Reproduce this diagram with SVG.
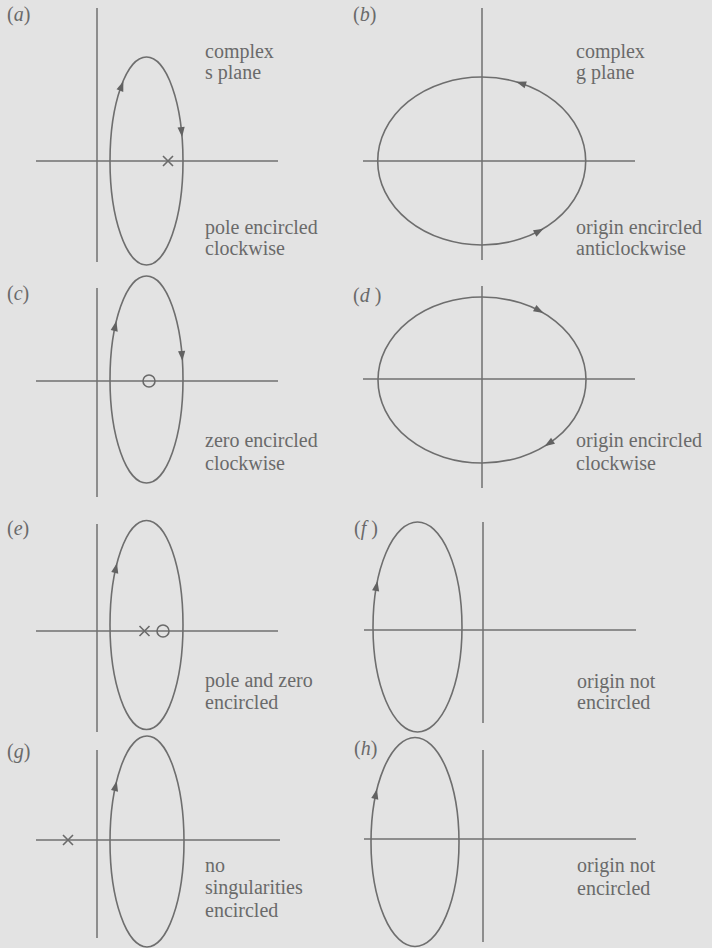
<svg xmlns="http://www.w3.org/2000/svg" xmlns:xlink="http://www.w3.org/1999/xlink" width="712" height="948" viewBox="0 0 712 948">
<style>
.ax{stroke:#707070;stroke-width:1.5;fill:none}
.ct{stroke:#6e6e6e;stroke-width:1.6;fill:none}
.ah{fill:#626262}
.mk{stroke:#6a6a6a;stroke-width:1.6;fill:none}
text{font-family:"Liberation Serif","Times New Roman",serif;font-size:20px;fill:#6a6a6a}
.it{font-style:italic}
</style>
<defs>
<path id="ah" class="ah" d="M4,0 L-6,-3.6 L-6,3.6 Z"/>
</defs>
<rect width="712" height="948" fill="#e3e3e3"/>

<g id="panel-a">
<line class="ax" x1="97" y1="8" x2="97" y2="262"/>
<line class="ax" x1="36" y1="161" x2="278" y2="161"/>
<ellipse class="ct" cx="146.5" cy="161" rx="36.5" ry="104"/>
<use xlink:href="#ah" transform="translate(122,85) rotate(-69.5)"/>
<use xlink:href="#ah" transform="translate(181.7,133) rotate(84.4)"/>
<path class="mk" d="M163,156 L173,166 M163,166 L173,156"/>
<text x="7" y="21">(<tspan class="it">a</tspan>)</text>
<text x="205" y="58">complex</text>
<text x="205" y="79">s plane</text>
<text x="205" y="234">pole encircled</text>
<text x="205" y="255">clockwise</text>
</g>

<g id="panel-b">
<line class="ax" x1="482" y1="8" x2="482" y2="260"/>
<line class="ax" x1="363" y1="161" x2="635" y2="161"/>
<ellipse class="ct" cx="481.7" cy="161" rx="104" ry="84"/>
<use xlink:href="#ah" transform="translate(520,83) rotate(-162.3)"/>
<use xlink:href="#ah" transform="translate(540,230.6) rotate(-28.6)"/>
<text x="353" y="21">(<tspan class="it">b</tspan>)</text>
<text x="576" y="58">complex</text>
<text x="576" y="79">g plane</text>
<text x="576" y="234">origin encircled</text>
<text x="576" y="255">anticlockwise</text>
</g>

<g id="panel-c">
<line class="ax" x1="97" y1="288" x2="97" y2="497"/>
<line class="ax" x1="36" y1="381" x2="278" y2="381"/>
<ellipse class="ct" cx="146.5" cy="379.5" rx="36.5" ry="103.5"/>
<use xlink:href="#ah" transform="translate(115.5,325) rotate(-77.7)"/>
<use xlink:href="#ah" transform="translate(182.1,357) rotate(85.5)"/>
<circle class="mk" cx="149" cy="381" r="6"/>
<text x="7" y="300">(<tspan class="it">c</tspan>)</text>
<text x="205" y="447">zero encircled</text>
<text x="205" y="470">clockwise</text>
</g>

<g id="panel-d">
<line class="ax" x1="482" y1="286" x2="482" y2="488"/>
<line class="ax" x1="363" y1="379" x2="635" y2="379"/>
<ellipse class="ct" cx="482" cy="380" rx="104" ry="83"/>
<use xlink:href="#ah" transform="translate(540,311) rotate(28.2)"/>
<use xlink:href="#ah" transform="translate(548,444) rotate(146.8)"/>
<text x="353" y="302">(<tspan class="it">d</tspan> )</text>
<text x="576" y="447">origin encircled</text>
<text x="576" y="470">clockwise</text>
</g>

<g id="panel-e">
<line class="ax" x1="97" y1="524" x2="97" y2="732"/>
<line class="ax" x1="36" y1="631" x2="278" y2="631"/>
<ellipse class="ct" cx="146.5" cy="625" rx="36.5" ry="104.5"/>
<use xlink:href="#ah" transform="translate(116.1,567) rotate(-76.9)"/>
<path class="mk" d="M139.5,626 L149.5,636 M139.5,636 L149.5,626"/>
<circle class="mk" cx="163" cy="631" r="6"/>
<text x="7" y="535">(<tspan class="it">e</tspan>)</text>
<text x="205" y="687">pole and zero</text>
<text x="205" y="709">encircled</text>
</g>

<g id="panel-f">
<line class="ax" x1="483" y1="522" x2="483" y2="723"/>
<line class="ax" x1="364" y1="630" x2="636" y2="630"/>
<ellipse class="ct" cx="417.5" cy="627" rx="44.5" ry="105"/>
<use xlink:href="#ah" transform="translate(376.7,585) rotate(-79.5)"/>
<text x="354" y="535">(<tspan class="it">f</tspan> )</text>
<text x="577" y="688">origin not</text>
<text x="577" y="709">encircled</text>
</g>

<g id="panel-g">
<line class="ax" x1="97" y1="750" x2="97" y2="938"/>
<line class="ax" x1="36" y1="840" x2="280" y2="840"/>
<ellipse class="ct" cx="147" cy="841.5" rx="37" ry="105.5"/>
<use xlink:href="#ah" transform="translate(115.8,785) rotate(-77.5)"/>
<path class="mk" d="M63,835 L73,845 M63,845 L73,835"/>
<text x="7" y="758">(<tspan class="it">g</tspan>)</text>
<text x="205" y="872">no</text>
<text x="205" y="894">singularities</text>
<text x="205" y="917">encircled</text>
</g>

<g id="panel-h">
<line class="ax" x1="483" y1="750" x2="483" y2="942"/>
<line class="ax" x1="364" y1="839" x2="636" y2="839"/>
<ellipse class="ct" cx="415" cy="842" rx="44" ry="104.5"/>
<use xlink:href="#ah" transform="translate(376.1,793) rotate(-77.4)"/>
<text x="354" y="755">(<tspan class="it">h</tspan>)</text>
<text x="577" y="872">origin not</text>
<text x="577" y="895">encircled</text>
</g>
</svg>
